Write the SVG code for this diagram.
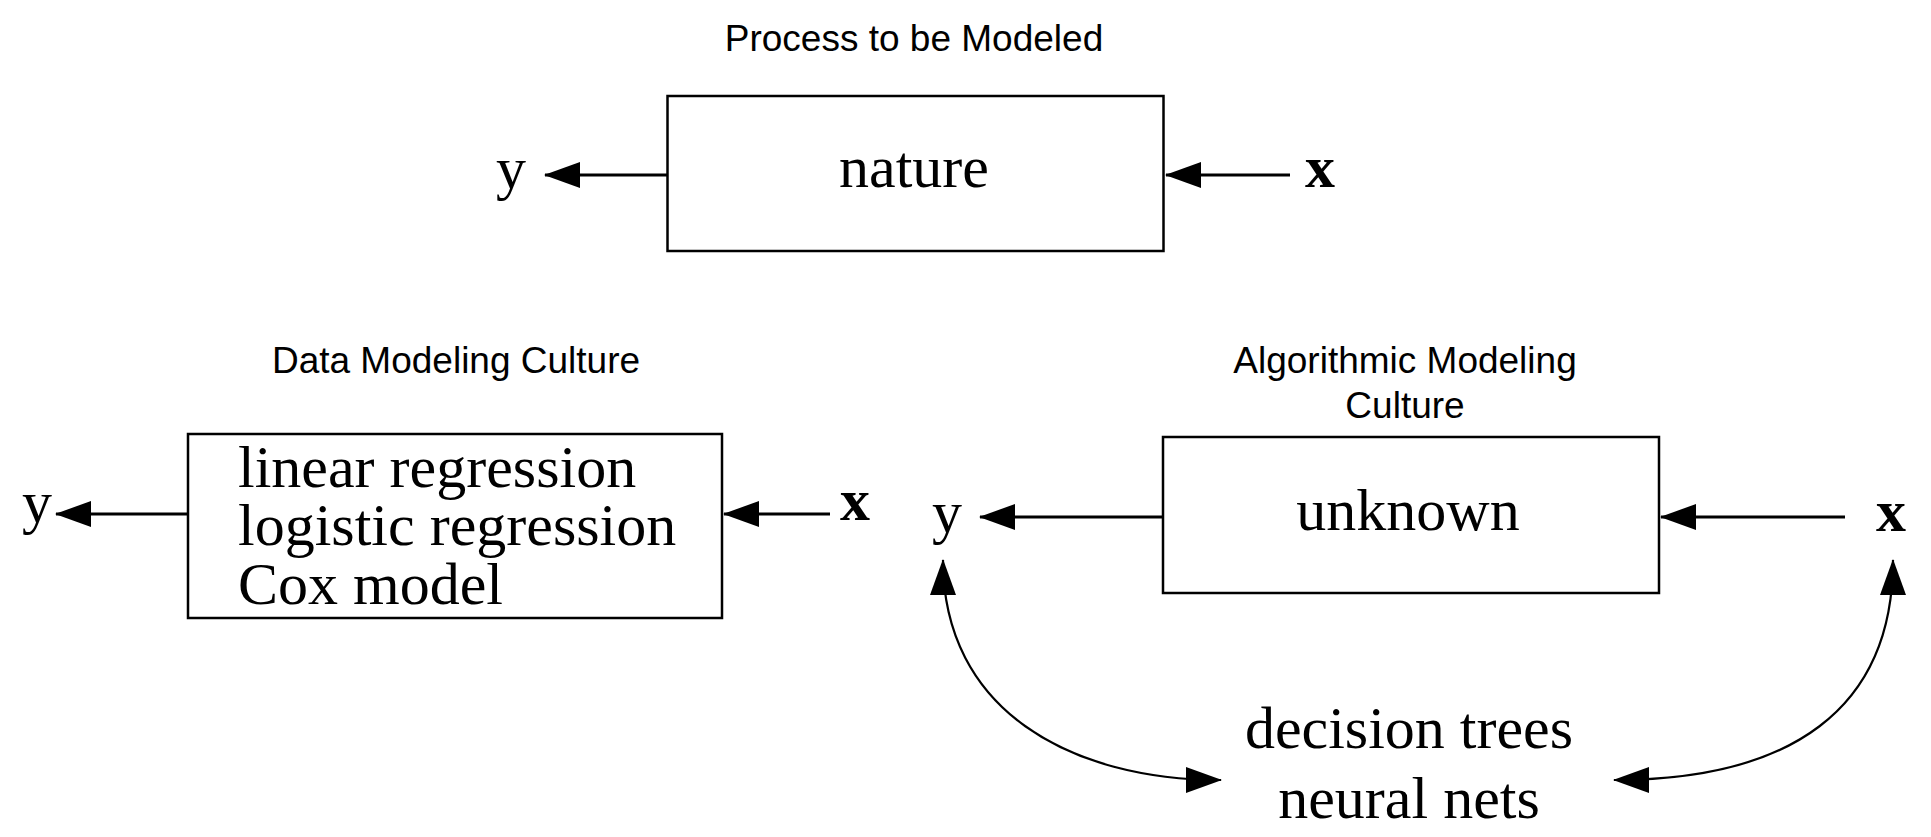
<svg xmlns="http://www.w3.org/2000/svg" width="1931" height="837" viewBox="0 0 1931 837">
<style>
.box{fill:#fff;stroke:#000;stroke-width:2.5}
.sans{font-family:"Liberation Sans",Arial,Helvetica,sans-serif;font-size:37px;fill:#000;text-anchor:middle}
.serif{font-family:"Liberation Serif","Times New Roman",serif;font-size:60px;fill:#000}
.mid{text-anchor:middle}
.bold{font-weight:bold}
.ln{fill:none;stroke:#000;stroke-width:3}
.cv{fill:none;stroke:#000;stroke-width:2.2}
</style>
<defs>
<marker id="ah" markerUnits="userSpaceOnUse" markerWidth="36" markerHeight="26" refX="35" refY="13" orient="auto-start-reverse">
<path d="M0,0 L36,13 L0,26 z" fill="#000"/>
</marker>
</defs>
<rect width="1931" height="837" fill="#fff"/>
<g id="connectors">
<line class="ln" x1="667" y1="175" x2="545" y2="175" marker-end="url(#ah)"/>
<line class="ln" x1="1290" y1="175" x2="1166" y2="175" marker-end="url(#ah)"/>
<line class="ln" x1="188" y1="514" x2="56" y2="514" marker-end="url(#ah)"/>
<line class="ln" x1="830" y1="514" x2="724" y2="514" marker-end="url(#ah)"/>
<line class="ln" x1="1162" y1="517" x2="980" y2="517" marker-end="url(#ah)"/>
<line class="ln" x1="1845" y1="517" x2="1661" y2="517" marker-end="url(#ah)"/>
<path class="cv" d="M943,560 C943,710 1070,780 1221,780" marker-start="url(#ah)" marker-end="url(#ah)"/>
<path class="cv" d="M1893,560 C1893,710 1790,780 1614,780" marker-start="url(#ah)" marker-end="url(#ah)"/>
</g>
<g id="process">
<text class="sans" x="914" y="51">Process to be Modeled</text>
<rect class="box" x="667.5" y="96" width="496" height="155"/>
<text class="serif mid" x="914" y="187">nature</text>
</g>
<g id="process-y"><text class="serif mid" x="511" y="188">y</text></g>
<g id="process-x"><text class="serif mid bold" x="1320" y="187">x</text></g>
<g id="data-modeling">
<text class="sans" x="456" y="373">Data Modeling Culture</text>
<rect class="box" x="188" y="434" width="534" height="184"/>
<text class="serif" x="238" y="487">linear regression</text>
<text class="serif" x="238" y="545">logistic regression</text>
<text class="serif" x="238" y="604">Cox model</text>
</g>
<g id="data-y"><text class="serif mid" x="37" y="522">y</text></g>
<g id="data-x"><text class="serif mid bold" x="855" y="520">x</text></g>
<g id="algorithmic-modeling">
<text class="sans" x="1405" y="373">Algorithmic Modeling</text>
<text class="sans" x="1405" y="418">Culture</text>
<rect class="box" x="1163" y="437" width="496" height="156"/>
<text class="serif mid" x="1408" y="530">unknown</text>
</g>
<g id="algo-y"><text class="serif mid" x="947" y="532">y</text></g>
<g id="algo-x"><text class="serif mid bold" x="1891" y="531">x</text></g>
<g id="algorithms">
<text class="serif mid" x="1409" y="748">decision trees</text>
<text class="serif mid" x="1409" y="818">neural nets</text>
</g>
</svg>
